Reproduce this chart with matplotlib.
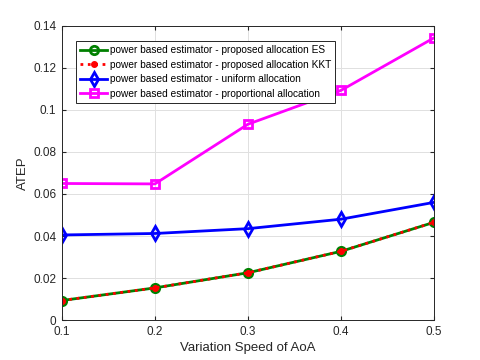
import matplotlib.pyplot as plt
import numpy as np

plt.rcParams['font.family'] = ['Liberation Sans', 'DejaVu Sans']

speed = [0.1, 0.2, 0.3, 0.4, 0.5]
es_atep = [0.0093, 0.0153, 0.0225, 0.0327, 0.0465]
kkt_atep = [0.0093, 0.0153, 0.0225, 0.0327, 0.0465]
uniform_atep = [0.0405, 0.0412, 0.0435, 0.0480, 0.0560]
prop_atep = [0.0650, 0.0648, 0.0932, 0.1093, 0.1343]

labels = ['power based estimator - proposed allocation ES',
          'power based estimator - proposed allocation KKT',
          'power based estimator - uniform allocation',
          'power based estimator - proportional allocation']

fig = plt.figure(figsize=(4.8, 3.6), dpi=100)
ax = fig.add_axes([0.129, 0.111, 0.775, 0.817])

ax.plot(speed, es_atep, color='green', lw=2, marker='o', ms=6, mfc='none', mew=2, label=labels[0])
ax.plot(speed, kkt_atep, color='red', lw=2, ls=':', marker='o', ms=4, mfc='red', mec='red', label=labels[1])
ax.plot(speed, uniform_atep, color='blue', lw=2, marker='d', ms=7, mfc='none', mew=2, label=labels[2])
ax.plot(speed, prop_atep, color='magenta', lw=2, marker='s', ms=6, mfc='none', mew=2, label=labels[3])

ax.set_xlim(0.1, 0.5)
ax.set_ylim(0, 0.14)
ax.set_xticks([0.1, 0.2, 0.3, 0.4, 0.5])
ax.set_xticklabels(['0.1', '0.2', '0.3', '0.4', '0.5'])
ax.set_yticks(np.arange(0, 0.141, 0.02))
ax.set_yticklabels(['0', '0.02', '0.04', '0.06', '0.08', '0.1', '0.12', '0.14'])
ax.grid(True, color='#e0e0e0', lw=0.7)
ax.set_axisbelow(True)
ax.tick_params(direction='in', top=True, right=True, labelsize=8.5, colors='#262626', length=3, pad=4)
for s in ax.spines.values():
    s.set_color('#262626')
    s.set_linewidth(0.7)

ax.set_xlabel('Variation Speed of AoA', fontsize=9.5, color='#262626', labelpad=3)
ax.set_ylabel('ATEP', fontsize=9.5, color='#262626', labelpad=3)

leg = ax.legend(loc='upper left', fontsize=7.3, handlelength=2.6, borderpad=0.4,
                labelspacing=0.45, handletextpad=0.3, fancybox=False, framealpha=1,
                bbox_to_anchor=(0.025, 0.965))
leg.get_frame().set_edgecolor('#262626')
leg.get_frame().set_linewidth(0.7)

fig.savefig('out.png')
